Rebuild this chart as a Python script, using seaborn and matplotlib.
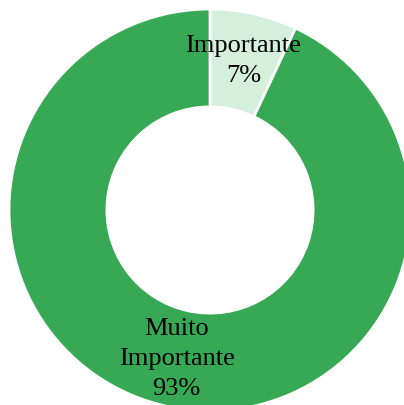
import matplotlib
matplotlib.use('Agg')
import matplotlib.pyplot as plt
import seaborn as sns

categorias = ['Importante', 'Muito\nImportante']
valores = [7, 93]
cores = ['#d4f0dc', '#37a854']

sns.set_theme(style='white')
plt.rcParams['font.family'] = ['Liberation Serif', 'DejaVu Serif']

fig = plt.figure(figsize=(4.04, 4.05), dpi=100)
ax = fig.add_axes([0, 0, 1, 1])

def rotulo(pct):
    i = min(range(len(valores)), key=lambda k: abs(valores[k] / sum(valores) * 100 - pct))
    return '%s\n%d%%' % (categorias[i], round(pct))

wedges, texts, autotexts = ax.pie(valores, colors=cores, startangle=90, counterclock=False,
                                  radius=1, autopct=rotulo, pctdistance=0.76,
                                  wedgeprops=dict(width=0.487, edgecolor='white', linewidth=2),
                                  textprops=dict(fontsize=19, color='black'))
for t in autotexts:
    t.set_linespacing(1.45)

# posicao do centro do anel na figura
cx, cy, r = 210, 210, 201
ax.set_aspect('auto')
ax.set_xlim(-cx / r, (404 - cx) / r)
ax.set_ylim(-(405 - cy) / r, cy / r)
ax.axis('off')

fig.savefig('out.png', dpi=100)
